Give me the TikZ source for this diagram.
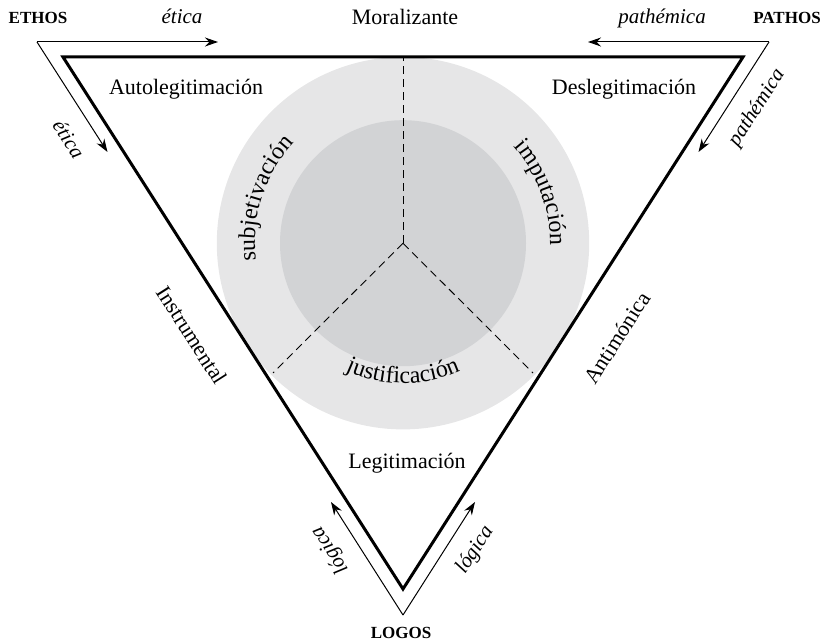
\documentclass[tikz,border=0pt]{standalone}
\usepackage{fontspec}
\setmainfont{Liberation Serif}
\usetikzlibrary{arrows.meta,decorations.text}
\definecolor{ringgray}{RGB}{230,230,231}
\definecolor{coregray}{RGB}{210,211,213}
\begin{document}
\begin{tikzpicture}[x=0.5pt,y=0.5pt,
  thinarrow/.style={line width=0.5pt,-{Stealth[length=6.5pt,width=4.5pt]}},
  frame/.style={line width=1.5pt,line join=miter},
  divider/.style={dash pattern=on 4pt off 2.5pt,line width=0.45pt},
  lbl/.style={font=\fontsize{11}{13}\selectfont,inner sep=0pt},
  ital/.style={font=\fontsize{10.5}{12}\selectfont\itshape,inner sep=0pt},
  pole/.style={font=\fontsize{8.5}{10}\selectfont\bfseries,inner sep=0pt}
]
\useasboundingbox (0,0) rectangle (830,-642);
% geometry
\coordinate (T1) at (63,-57);
\coordinate (T2) at (743,-57);
\coordinate (T3) at (403,-589);
\coordinate (C) at (403,-243.2);
\coordinate (E) at (37,-42);
\coordinate (P) at (769,-42);
\coordinate (L) at (403,-615);
\coordinate (e1) at (218,-42);
\coordinate (e2) at (107.5,-152);
\coordinate (p1) at (588,-42);
\coordinate (p2) at (698.5,-152);
\coordinate (l1) at (331,-502);
\coordinate (l2) at (475,-502);
\coordinate (d1) at (403,-57);
\coordinate (d2) at (273,-373);
\coordinate (d3) at (533,-373);
% circles
\begin{scope}
  \clip (T1) -- (T2) -- (T3) -- cycle;
  \fill[ringgray] (C) circle[radius=186.2];
\end{scope}
\fill[coregray] (C) circle[radius=123];
% dividers
\draw[divider] (C) -- (d1);
\draw[divider] (C) -- (d2);
\draw[divider] (C) -- (d3);
% main triangle
\draw[frame] (T1) -- (T2) -- (T3) -- cycle;
% outer arrows
\draw[thinarrow] (E) -- (e1);
\draw[thinarrow] (E) -- (e2);
\draw[thinarrow] (P) -- (p1);
\draw[thinarrow] (P) -- (p2);
\draw[thinarrow] (L) -- (l1);
\draw[thinarrow] (L) -- (l2);
% arc texts
\path[decorate,decoration={text along path,text align=center,
  text={|\fontsize{12}{14}\selectfont|subjetivación}}]
  (C) ++(192:148) arc[start angle=192,end angle=132,radius=148];
\path[decorate,decoration={text along path,text align=center,
  text={|\fontsize{12}{14}\selectfont|imputación}}]
  (C) ++(50:147) arc[start angle=50,end angle=-10,radius=147];
\path[decorate,decoration={text along path,text align=center,
  text={|\fontsize{12}{14}\selectfont|justificación}}]
  (C) ++(240:140) arc[start angle=240,end angle=300,radius=140];
% labels
\node[pole,anchor=base] (ethos) at (38,-24) {ETHOS};
\node[pole,anchor=base] (pathos) at (787,-24) {PATHOS};
\node[pole,anchor=base] (logos) at (401,-638) {LOGOS};
\node[ital,anchor=base] (et1) at (182,-24) {ética};
\node[ital,anchor=base] (pa1) at (662,-24) {pathémica};
\node[lbl,anchor=base] (mor) at (405,-25) {Moralizante};
\node[lbl,anchor=base] (auto) at (186,-95) {Autolegitimación};
\node[lbl,anchor=base] (desl) at (624,-95) {Deslegitimación};
\node[lbl,anchor=base] (legi) at (407,-468) {Legitimación};
\node[ital,rotate=-57.4] (et2) at (69,-139) {ética};
\node[ital,rotate=57.4] (pa2) at (757,-108) {pathémica};
\node[lbl,rotate=-57.4] (instr) at (192,-335) {Instrumental};
\node[lbl,rotate=57.4] (anti) at (617,-338) {Antimónica};
\node[ital,rotate=122.6] (lo1) at (330,-550) {lógica};
\node[ital,rotate=57.4] (lo2) at (475,-550) {lógica};
\end{tikzpicture}
\end{document}
